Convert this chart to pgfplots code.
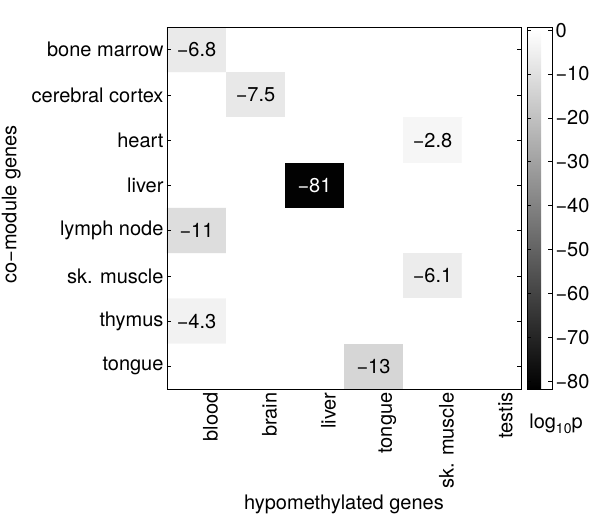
\documentclass[border=0pt]{standalone}
\usepackage{fontspec}
\setmainfont{TeX Gyre Heros}
\usepackage{pgfplots}
\usepackage{pgfplotstable}
\pgfplotsset{compat=1.18}
\newcommand\ff{\fontsize{20}{24}\selectfont}

% cell values: x = hypomethylated column, y = co-module row, c = log10 p
\pgfplotstableread{
x y c
0 0 -6.8
1 0 0
2 0 0
3 0 0
4 0 0
5 0 0
0 1 0
1 1 -7.5
2 1 0
3 1 0
4 1 0
5 1 0
0 2 0
1 2 0
2 2 0
3 2 0
4 2 -2.8
5 2 0
0 3 0
1 3 0
2 3 -81
3 3 0
4 3 0
5 3 0
0 4 -11
1 4 0
2 4 0
3 4 0
4 4 0
5 4 0
0 5 0
1 5 0
2 5 0
3 5 0
4 5 -6.1
5 5 0
0 6 -4.3
1 6 0
2 6 0
3 6 0
4 6 0
5 6 0
0 7 0
1 7 0
2 7 0
3 7 -13
4 7 0
5 7 0
}\heat

\pgfplotstableread{
x y t
0 0 −6.8
1 1 −7.5
4 2 −2.8
0 4 −11
4 5 −6.1
0 6 −4.3
3 7 −13
}\labs

\begin{document}
\begin{tikzpicture}
\path[use as bounding box] (-167pt,-131pt) rectangle (433pt,389pt);
\begin{axis}[
  at={(0,0)}, anchor=south west,
  scale only axis, width=354pt, height=362pt,
  axis on top,
  xmin=-0.5, xmax=5.5, ymin=-0.5, ymax=7.5, y dir=reverse,
  xtick={0,...,5},
  xticklabels={blood,brain,liver,tongue,sk. muscle,testis},
  ytick={0,...,7},
  yticklabels={bone marrow,cerebral cortex,heart,liver,lymph node,sk. muscle,thymus,tongue},
  x tick style={draw=none},
  ytick pos=both, yticklabel pos=left,
  tick align=inside, major tick length=4pt,
  tick style={black, line width=0.6pt},
  axis line style={line width=0.8pt},
  yticklabel style={font=\ff},
  xticklabel style={font=\ff, rotate=90, anchor=east, yshift=-14pt},
  xlabel={hypomethylated genes},
  ylabel={co−module genes},
  xlabel style={font=\ff, at={(axis description cs:0.5,-0.32)}, anchor=center},
  ylabel style={font=\ff, at={(axis description cs:-0.44,0.51)}, anchor=center},
  colormap={mygray}{gray(0cm)=(0); gray(81.8cm)=(1); gray(82.5cm)=(1)},
  point meta min=-81.8, point meta max=0.7,
  colorbar,
  colorbar shift/.style={xshift=6pt},
  colorbar style={
    at={(parent axis.north east)}, anchor=north west,
    scale only axis, width=25pt, height=362pt,
    axis on top,
    ytick={-80,-70,...,0},
    yticklabels={−80,−70,−60,−50,−40,−30,−20,−10,0},
    ytick pos=both, yticklabel pos=right,
    tick align=inside, major tick length=4pt,
    tick style={black, line width=0.6pt},
    axis line style={line width=0.8pt},
    yticklabel style={font=\ff},
    after end axis/.code={
      \node[font=\ff] at (rel axis cs:1.16,-0.097)
        {log\raisebox{-5pt}{\fontsize{14}{14}\selectfont 10}p};
    },
  },
]
\addplot[matrix plot*, mesh/cols=6, point meta=explicit, draw=none]
  table[x=x, y=y, meta=c] {\heat};
\addplot[only marks, mark=none, point meta=explicit symbolic,
  nodes near coords, nodes near coords align=center,
  every node near coord/.append style={font=\ff, anchor=center, black}]
  table[x=x, y=y, meta=t] {\labs};
\addplot[only marks, mark=none, point meta=explicit symbolic,
  nodes near coords, nodes near coords align=center,
  every node near coord/.append style={font=\ff, anchor=center, white}]
  coordinates {(2,3) [{−81}]};
\end{axis}
\end{tikzpicture}
\end{document}
